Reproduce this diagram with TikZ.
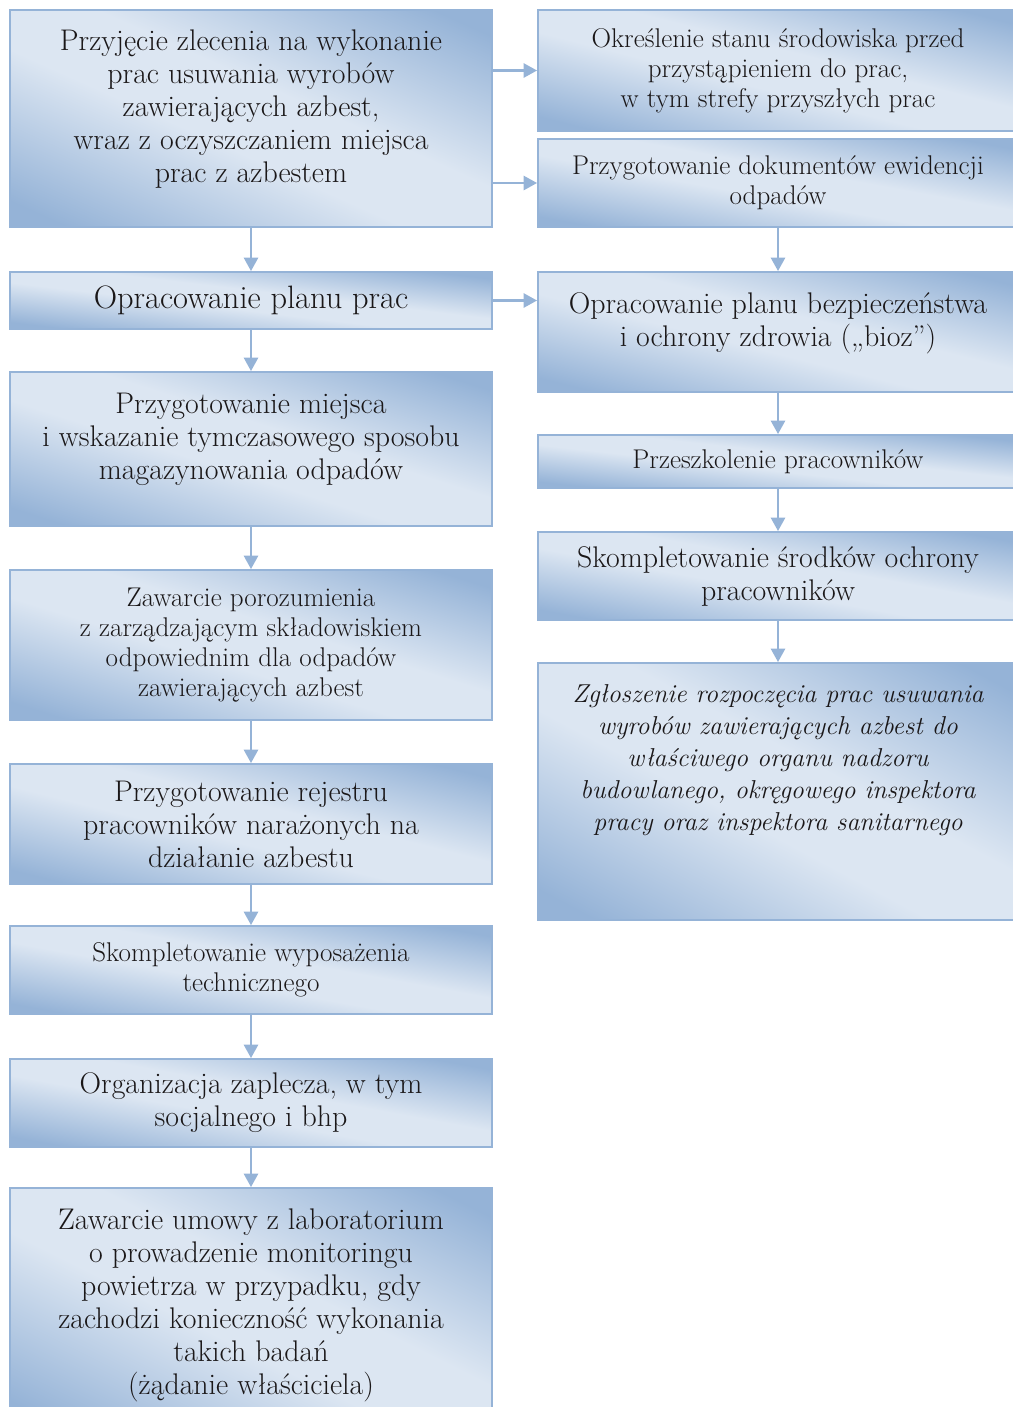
\documentclass[tikz,border=0pt]{standalone}
\usepackage{tikz}
\usetikzlibrary{arrows.meta}

\definecolor{ramka}{HTML}{95B3D7}
\definecolor{tekst}{HTML}{1A1718}

% jasny DCE6F2 na przekatnej, ciemny 95B3D7 w rogach
\pgfdeclarefunctionalshading{blask}{\pgfpoint{-50bp}{-50bp}}{\pgfpoint{50bp}{50bp}}{}{
  add 50 div abs 0.18 sub 0.7 div
  dup 0 lt {pop 0} if dup 1 gt {pop 1} if
  dup -0.2784 mul 0.8627 add exch
  dup -0.2 mul 0.902 add exch
  -0.1059 mul 0.949 add
}

\newcommand{\pismoduze}{\fontsize{22.4}{24.75}\selectfont}
\newcommand{\pismosrednie}{\fontsize{20.3}{22.5}\selectfont}
\newcommand{\pismowielkie}{\fontsize{24.3}{28}\selectfont}
\newcommand{\pismokursywa}{\fontsize{19.4}{24}\selectfont\itshape}

\tikzset{
  etap/.style={draw=ramka, line width=1.4pt, shading=blask, text=tekst, align=center, inner sep=0pt},
  lewy/.style={etap, minimum width=361.5pt},
  prawy/.style={etap, minimum width=360pt},
  strzalka/.style={draw=ramka, line width=1.8pt, -{Triangle[width=10.5pt,length=10pt]}},
}

\begin{document}
\begin{tikzpicture}[x=0.75pt,y=-0.75pt]
  \useasboundingbox (0,0) rectangle (1013,1407);
  \clip (0,0) rectangle (1013,1407);

  % lewa kolumna
  \node[lewy, minimum height=162.75pt, font=\pismoduze] (przyjecie) at (251,118.5)
    {Przyjęcie zlecenia na wykonanie\\ prac usuwania wyrobów\\ zawierających azbest,\\
     wraz z oczyszczaniem miejsca\\ prac z azbestem\\[-6.75pt]~};
  \node[lewy, minimum height=42.75pt, font=\pismowielkie] (planprac) at (251,300.5)
    {Opracowanie planu prac};
  \node[lewy, minimum height=115.5pt, font=\pismoduze] (miejsce) at (251,449)
    {Przygotowanie miejsca\\ i wskazanie tymczasowego sposobu\\ magazynowania odpadów\\[-5pt]~};
  \node[lewy, minimum height=112.5pt, font=\pismosrednie] (porozumienie) at (251,645)
    {Zawarcie porozumienia\\ z zarządzającym składowiskiem\\ odpowiednim dla odpadów\\
     zawierających azbest};
  \node[lewy, minimum height=90pt, font=\pismoduze] (rejestr) at (251,824)
    {Przygotowanie rejestru\\ pracowników narażonych na\\ działanie azbestu};
  \node[lewy, minimum height=66pt, font=\pismosrednie] (wyposazenie) at (251,970)
    {Skompletowanie wyposażenia\\ technicznego};
  \node[lewy, minimum height=66pt, font=\pismoduze] (zaplecze) at (251,1103)
    {Organizacja zaplecza, w tym\\ socjalnego i bhp};
  \node[lewy, minimum height=181.5pt, font=\pismoduze] (umowa) at (251,1309)
    {Zawarcie umowy z laboratorium\\ o prowadzenie monitoringu\\ powietrza w przypadku, gdy\\
     zachodzi konieczność wykonania\\ takich badań\\ (żądanie właściciela)\\[-13pt]~};

  % prawa kolumna
  \node[prawy, minimum height=90.75pt, font=\pismosrednie] (stan) at (778,70.5)
    {Określenie stanu środowiska przed\\ przystąpieniem do prac,\\ w tym strefy przyszłych prac};
  \node[prawy, minimum height=66pt, font=\pismosrednie] (ewidencja) at (778,183)
    {Przygotowanie dokumentów ewidencji\\ odpadów};
  \node[prawy, minimum height=90pt, font=\pismoduze] (bioz) at (778,332)
    {Opracowanie planu bezpieczeństwa\\ i ochrony zdrowia („bioz”)\\[-6.75pt]~};
  \node[prawy, minimum height=39.75pt, font=\pismosrednie] (szkolenie) at (778,461.5)
    {Przeszkolenie pracowników};
  \node[prawy, minimum height=66pt, font=\pismoduze] (srodki) at (778,576)
    {Skompletowanie środków ochrony\\ pracowników};
  \node[prawy, minimum height=192.75pt, font=\pismokursywa] (zgloszenie) at (778,791.5)
    {Zgłoszenie rozpoczęcia prac usuwania\\ wyrobów zawierających azbest do\\
     właściwego organu nadzoru\\ budowlanego, okręgowego inspektora\\
     pracy oraz inspektora sanitarnego\\[27pt]~};

  % strzalki
  \draw[strzalka] (przyjecie.south) -- (planprac.north);
  \draw[strzalka] (planprac.south) -- (miejsce.north);
  \draw[strzalka] (miejsce.south) -- (porozumienie.north);
  \draw[strzalka] (porozumienie.south) -- (rejestr.north);
  \draw[strzalka] (rejestr.south) -- (wyposazenie.north);
  \draw[strzalka] (wyposazenie.south) -- (zaplecze.north);
  \draw[strzalka] (zaplecze.south) -- (umowa.north);
  \draw[strzalka] (przyjecie.east |- stan.west) -- (stan.west);
  \draw[strzalka] (przyjecie.east |- ewidencja.west) -- (ewidencja.west);
  \draw[strzalka] (planprac.east) -- (planprac.east -| bioz.west);
  \draw[strzalka] (ewidencja.south) -- (bioz.north);
  \draw[strzalka] (bioz.south) -- (szkolenie.north);
  \draw[strzalka] (szkolenie.south) -- (srodki.north);
  \draw[strzalka] (srodki.south) -- (zgloszenie.north);
\end{tikzpicture}
\end{document}
